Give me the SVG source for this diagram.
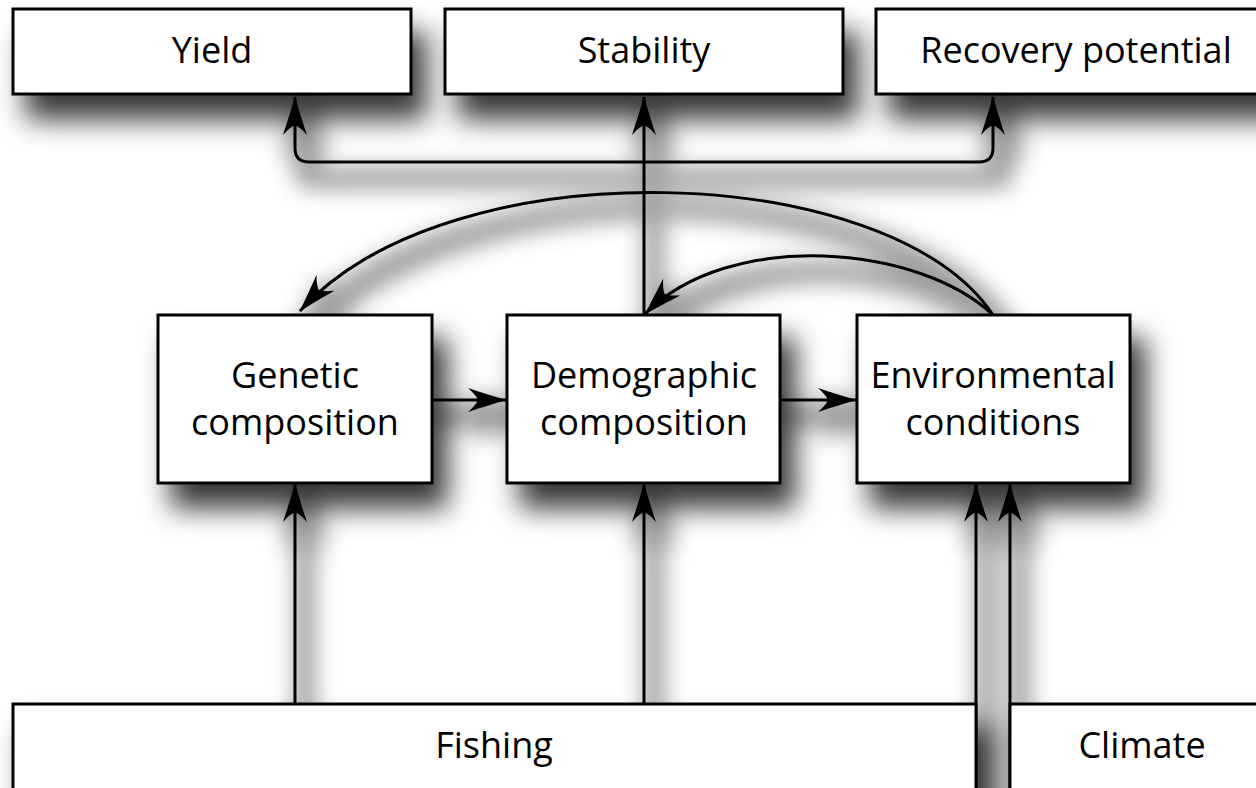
<svg xmlns="http://www.w3.org/2000/svg" width="1256" height="788" viewBox="0 0 1256 788">
<defs>
<filter id="sh" x="-25%" y="-50%" width="160%" height="250%">
<feGaussianBlur in="SourceAlpha" stdDeviation="14"/>
<feOffset dx="14" dy="24" result="b"/>
<feFlood flood-color="#000" flood-opacity="0.78"/>
<feComposite in2="b" operator="in"/>
<feMerge><feMergeNode/><feMergeNode in="SourceGraphic"/></feMerge>
</filter>
<filter id="shl" x="-50%" y="-50%" width="200%" height="200%">
<feMorphology in="SourceAlpha" operator="dilate" radius="9"/>
<feGaussianBlur stdDeviation="11"/>
<feOffset dx="10" dy="16" result="b"/>
<feFlood flood-color="#000" flood-opacity="0.38"/>
<feComposite in2="b" operator="in"/>
<feMerge><feMergeNode/><feMergeNode in="SourceGraphic"/></feMerge>
</filter>
<marker id="ah" viewBox="-40 -14 42 28" refX="0" refY="0" markerWidth="42" markerHeight="28" markerUnits="userSpaceOnUse" orient="auto-start-reverse">
<path d="M1,0 C-10,-3 -26,-8 -38,-12 Q-30,-5 -28,0 Q-30,5 -38,12 C-26,8 -10,3 1,0 Z" fill="#000"/>
</marker>
</defs>
<style>
.box{fill:#fff;stroke:#000;stroke-width:3}
.t{font-family:"Open Sans","Noto Sans","DejaVu Sans",sans-serif;font-size:36px;fill:#000;text-anchor:middle}
.c{fill:none;stroke:#000;stroke-width:3}
</style>
<rect width="1256" height="788" fill="#fff"/>
<g id="connectors" filter="url(#shl)">
<path class="c" d="M295,97 V148 Q295,162 309,162 H979 Q993,162 993,148 V97" marker-start="url(#ah)" marker-end="url(#ah)"/>
<path class="c" d="M644,315 V97" marker-end="url(#ah)"/>
<path class="c" d="M993,315 C890,160 450,145 300,311" marker-end="url(#ah)"/>
<path class="c" d="M993,315 C920,245 730,228 645,314" marker-end="url(#ah)"/>
<path class="c" d="M432,400 H506" marker-end="url(#ah)"/>
<path class="c" d="M780,400 H856" marker-end="url(#ah)"/>
<path class="c" d="M295,704 V484" marker-end="url(#ah)"/>
<path class="c" d="M644,704 V484" marker-end="url(#ah)"/>
<path class="c" d="M976,800 V484" marker-end="url(#ah)"/>
<path class="c" d="M1010,800 V484" marker-end="url(#ah)"/>
</g>
<g id="yield"><rect class="box" x="13" y="9" width="398" height="85" filter="url(#sh)"/><text class="t" x="212" y="63">Yield</text></g>
<g id="stability"><rect class="box" x="445" y="9" width="398" height="85" filter="url(#sh)"/><text class="t" x="644" y="63">Stability</text></g>
<g id="recovery"><rect class="box" x="876" y="9" width="400" height="85" filter="url(#sh)"/><text class="t" x="1076" y="63">Recovery potential</text></g>
<g id="genetic"><rect class="box" x="158" y="315" width="274" height="168" filter="url(#sh)"/><text class="t" x="295" y="388">Genetic</text><text class="t" x="295" y="435">composition</text></g>
<g id="demographic"><rect class="box" x="507" y="315" width="273" height="168" filter="url(#sh)"/><text class="t" x="644" y="388">Demographic</text><text class="t" x="644" y="435">composition</text></g>
<g id="environmental"><rect class="box" x="857" y="315" width="273" height="168" filter="url(#sh)"/><text class="t" x="993" y="388">Environmental</text><text class="t" x="993" y="435">conditions</text></g>
<g id="fishing"><rect class="box" x="13" y="704" width="963" height="100" filter="url(#sh)"/><text class="t" x="494" y="758">Fishing</text></g>
<g id="climate"><rect class="box" x="1010" y="704" width="266" height="100" filter="url(#sh)"/><text class="t" x="1142" y="758">Climate</text></g>
</svg>
